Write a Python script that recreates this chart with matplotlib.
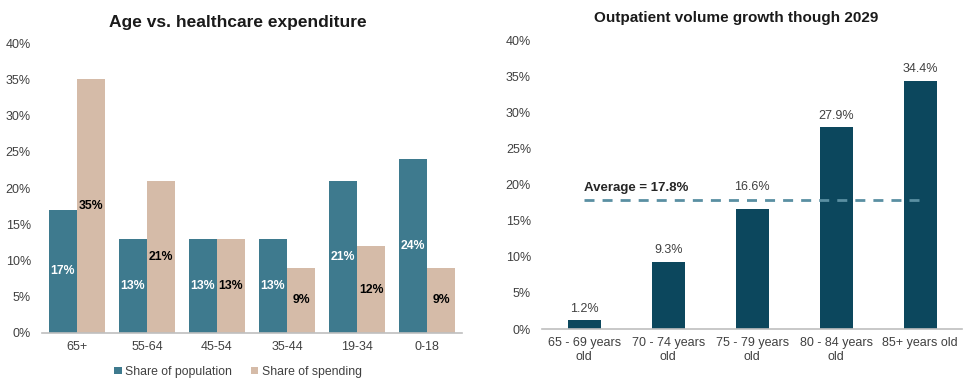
import numpy as np
import matplotlib
matplotlib.use('Agg')
import matplotlib.pyplot as plt

plt.rcParams['font.family'] = ['Liberation Sans', 'DejaVu Sans']

# left chart data
age_groups = ['65+', '55-64', '45-54', '35-44', '19-34', '0-18']
share_population = [17, 13, 13, 13, 21, 24]
share_spending = [35, 21, 13, 9, 12, 9]

# right chart data
outpatient_groups = ['65 - 69 years\nold', '70 - 74 years\nold', '75 - 79 years\nold',
                     '80 - 84 years\nold', '85+ years old']
volume_growth = [1.2, 9.3, 16.6, 27.9, 34.4]
average_growth = 17.8

pop_color = '#3e7a8e'
spend_color = '#d5bba8'
dark_teal = '#0c475d'
avg_color = '#5a8fa2'
text_color = '#404040'
spine_color = '#bfbfbf'

fig = plt.figure(figsize=(9.75, 3.89), dpi=100)

# --- left: age vs healthcare expenditure ---
ax1 = fig.add_axes([0.043, 0.144, 0.431, 0.745])
x = np.arange(len(age_groups))
w = 0.4
b1 = ax1.bar(x - w / 2, share_population, w, color=pop_color, label='Share of population')
b2 = ax1.bar(x + w / 2, share_spending, w, color=spend_color, label='Share of spending')
for rect, v in zip(b1, share_population):
    ax1.text(rect.get_x() + rect.get_width() / 2, v / 2, f'{v}%', ha='center', va='center',
             color='white', fontsize=8.8, fontweight='bold')
for rect, v in zip(b2, share_spending):
    ax1.text(rect.get_x() + rect.get_width() / 2, v / 2, f'{v}%', ha='center', va='center',
             color='black', fontsize=8.8, fontweight='bold')
ax1.set_xlim(-0.5, len(age_groups) - 0.5)
ax1.set_ylim(0, 40)
ax1.set_yticks(range(0, 41, 5))
ax1.set_yticklabels([f'{t}%' for t in range(0, 41, 5)])
ax1.set_xticks(x)
ax1.set_xticklabels(age_groups)
ax1.set_title('Age vs. healthcare expenditure', fontsize=12.5, fontweight='bold',
              color='#1a1a1a', pad=12, x=0.465)
fig.legend(handles=[b1, b2], loc='center', bbox_to_anchor=(0.244, 0.044), ncol=2,
           frameon=False, fontsize=8.8, handlelength=0.6, handleheight=0.6,
           handletextpad=0.3, columnspacing=1.5, labelcolor=text_color)

# --- right: outpatient volume growth ---
ax2 = fig.add_axes([0.556, 0.154, 0.431, 0.743])
x2 = np.arange(len(outpatient_groups))
bars = ax2.bar(x2, volume_growth, 0.39, color=dark_teal)
for rect, v in zip(bars, volume_growth):
    y = v + 0.8
    # lift label above the average line if it would sit on it
    if v < average_growth < v + 3:
        y = average_growth + 1.1
    ax2.text(rect.get_x() + rect.get_width() / 2, y, f'{v}%', ha='center', va='bottom',
             color=text_color, fontsize=9)
ax2.plot([x2[0], x2[-1]], [average_growth, average_growth], linestyle=(0, (3.6, 2.9)),
         color=avg_color, linewidth=2)
ax2.text(x2[0], average_growth + 0.9, f'Average = {average_growth}%', ha='left', va='bottom',
         fontsize=9.5, fontweight='bold', color='#262626')
ax2.set_xlim(-0.5, len(outpatient_groups) - 0.5)
ax2.set_ylim(0, 40)
ax2.set_yticks(range(0, 41, 5))
ax2.set_yticklabels([f'{t}%' for t in range(0, 41, 5)])
ax2.set_xticks(x2)
ax2.set_xticklabels(outpatient_groups, linespacing=1.2)
ax2.set_title('Outpatient volume growth though 2029', fontsize=11, fontweight='bold',
              color='#1a1a1a', pad=13, x=0.462)

for ax in (ax1, ax2):
    for s in ('top', 'right', 'left'):
        ax.spines[s].set_visible(False)
    ax.spines['bottom'].set_color(spine_color)
    ax.spines['bottom'].set_linewidth(1.2)
    ax.tick_params(axis='both', length=0, labelsize=9, colors=text_color)
    ax.tick_params(axis='y', pad=8)
    ax.tick_params(axis='x', pad=6)

fig.savefig('out.png', dpi=100)
